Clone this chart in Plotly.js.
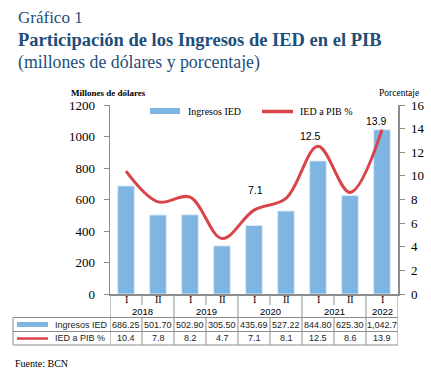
<!DOCTYPE html>
<html><head><meta charset="utf-8">
<script src="https://cdn.plot.ly/plotly-3.0.1.min.js"></script>
<style>html,body{margin:0;padding:0;background:#fff;}#chart{width:431px;height:374px;}</style>
</head><body><div id="chart"></div>
<script>
// ---- data ----
const periods = ['I','II','I','II','I','II','I','II','I'];
const years = ['2018','2018','2019','2019','2020','2020','2021','2021','2022'];
const ingresos = [686.25, 501.70, 502.90, 305.50, 435.69, 527.22, 844.80, 625.30, 1042.70];
const iedPib = [10.4, 7.8, 8.2, 4.7, 7.1, 8.1, 12.5, 8.6, 13.9];
const ingresosText = ['686.25','501.70','502.90','305.50','435.69','527.22','844.80','625.30','1,042.7'];
const iedPibText = ['10.4','7.8','8.2','4.7','7.1','8.1','12.5','8.6','13.9'];
const labelIdx = [4, 6, 8];
const seriesNames = ['Ingresos IED', 'IED a PIB %'];

// ---- layout helpers ----
const W = 431, H = 374;
const M = {l: 110, r: 33, t: 105, b: 80};
const PW = W - M.l - M.r, PH = H - M.t - M.b;
const px = x => (x - M.l) / PW;
const py = y => (H - M.b - y) / PH;
const BLUE = '#7EB5E3', RED = '#D9434A', NAVY = '#1F4E79', GRID = '#8C8C8C';
const SERIF = '"Liberation Serif", "Times New Roman", serif';
const SANS = '"Liberation Sans", Arial, sans-serif';
const n = ingresos.length;
const xs = ingresos.map((_, i) => i);

const traces = [
  {type: 'bar', x: xs, y: ingresos, name: seriesNames[0], yaxis: 'y',
   marker: {color: BLUE, line: {color: '#DCEAF7', width: 1}}, hoverinfo: 'skip'},
  {type: 'scatter', mode: 'lines', x: xs, y: iedPib, name: seriesNames[1], yaxis: 'y2',
   line: {color: RED, width: 3, shape: 'spline', smoothing: 1}, cliponaxis: false, hoverinfo: 'skip'}
];

const ann = [];
const shapes = [];
const line = (x0, y0, x1, y1, xref, color, w) => shapes.push({type: 'line', xref: xref, yref: 'paper',
  x0: x0, x1: x1, y0: y0, y1: y1, line: {color: color || GRID, width: w || 1}});

// titles
ann.push({text: 'Gráfico 1', xref: 'paper', yref: 'paper', x: px(16), y: py(17), xanchor: 'left', yanchor: 'middle', showarrow: false,
  font: {family: SERIF, size: 17, color: NAVY}});
ann.push({text: '<b>Participación de los Ingresos de IED en el PIB</b>', xref: 'paper', yref: 'paper', x: px(16), y: py(40), xanchor: 'left', yanchor: 'middle', showarrow: false,
  font: {family: SERIF, size: 18.5, color: NAVY}});
ann.push({text: '(millones de dólares y porcentaje)', xref: 'paper', yref: 'paper', x: px(16), y: py(62), xanchor: 'left', yanchor: 'middle', showarrow: false,
  font: {family: SERIF, size: 17.8, color: NAVY}});
// axis titles
ann.push({text: '<b>Millones de dólares</b>', xref: 'paper', yref: 'paper', x: px(108), y: py(93), xanchor: 'center', yanchor: 'middle', showarrow: false,
  font: {family: SERIF, size: 9, color: '#000'}});
ann.push({text: 'Porcentaje', xref: 'paper', yref: 'paper', x: px(399), y: py(93), xanchor: 'center', yanchor: 'middle', showarrow: false,
  font: {family: SERIF, size: 9.5, color: '#000'}});
// legend (manual)
shapes.push({type: 'rect', xref: 'paper', yref: 'paper', x0: px(150), x1: px(180), y0: py(108), y1: py(114), fillcolor: BLUE, line: {width: 0}});
ann.push({text: seriesNames[0], xref: 'paper', yref: 'paper', x: px(186), y: py(111), xanchor: 'left', yanchor: 'middle', showarrow: false,
  font: {family: SERIF, size: 10, color: '#000'}});
line(px(262), py(111.5), px(293), py(111.5), 'paper', RED, 3.5);
ann.push({text: seriesNames[1], xref: 'paper', yref: 'paper', x: px(298), y: py(111), xanchor: 'left', yanchor: 'middle', showarrow: false,
  font: {family: SERIF, size: 10, color: '#000'}});
// data labels
const lblShift = {4: [1, 12], 6: [-8, 2], 8: [-6, 1]};
labelIdx.forEach(i => ann.push({text: iedPibText[i], xref: 'x', yref: 'y2', x: i, y: iedPib[i], xanchor: 'center', yanchor: 'bottom',
  xshift: lblShift[i][0], yshift: lblShift[i][1], showarrow: false, font: {family: SANS, size: 10.5, color: '#000'}}));

// table
const yTop = 294, yP = 305, yY = 317.5, yR1 = 331.5, yR2 = 345;
periods.forEach((p, i) => ann.push({text: p, xref: 'x', yref: 'paper', x: i, y: py(299.5), xanchor: 'center', yanchor: 'middle', showarrow: false,
  font: {family: SERIF, size: 10, color: '#000'}}));
// year groups
const groups = [];
years.forEach((y, i) => {
  if (!groups.length || groups[groups.length - 1].y !== y) groups.push({y: y, s: i, e: i});
  else groups[groups.length - 1].e = i;
});
groups.forEach(g => ann.push({text: g.y, xref: 'x', yref: 'paper', x: (g.s + g.e) / 2, y: py(311.5), xanchor: 'center', yanchor: 'middle', showarrow: false,
  font: {family: SANS, size: 9.5, color: '#000'}}));
// vertical dividers
for (let i = 0; i <= n; i++) {
  const xb = i - 0.5;
  const edge = (i === 0 || i === n);
  const yearB = edge || groups.some(g => g.s === i);
  if (yearB) line(xb, py(yTop), xb, py(yR2), 'x');
  else { line(xb, py(yTop), xb, py(yP), 'x'); line(xb, py(yY), xb, py(yR2), 'x'); }
}
// horizontal lines
[yY, yR1, yR2].forEach(y => line(px(13), py(y), px(398), py(y), 'paper'));
line(px(13), py(yY), px(13), py(yR2), 'paper');
// row values
const r1 = (yY + yR1) / 2, r2 = (yR1 + yR2) / 2;
ingresosText.forEach((t, i) => ann.push({text: t, xref: 'x', yref: 'paper', x: i, y: py(r1), xanchor: 'center', yanchor: 'middle', showarrow: false,
  font: {family: SANS, size: 9, color: '#222'}}));
iedPibText.forEach((t, i) => ann.push({text: t, xref: 'x', yref: 'paper', x: i, y: py(r2), xanchor: 'center', yanchor: 'middle', showarrow: false,
  font: {family: SANS, size: 9, color: '#222'}}));
// row keys
shapes.push({type: 'rect', xref: 'paper', yref: 'paper', x0: px(17), x1: px(48), y0: py(322), y1: py(327), fillcolor: BLUE, line: {width: 0}});
line(px(17), py(338.5), px(48), py(338.5), 'paper', RED, 2.5);
ann.push({text: seriesNames[0], xref: 'paper', yref: 'paper', x: px(53), y: py(r1), xanchor: 'left', yanchor: 'middle', showarrow: false,
  font: {family: SANS, size: 9, color: '#222'}});
ann.push({text: seriesNames[1], xref: 'paper', yref: 'paper', x: px(53), y: py(r2), xanchor: 'left', yanchor: 'middle', showarrow: false,
  font: {family: SANS, size: 9, color: '#222'}});
// source
ann.push({text: 'Fuente: BCN', xref: 'paper', yref: 'paper', x: px(13), y: py(363), xanchor: 'left', yanchor: 'middle', showarrow: false,
  font: {family: SERIF, size: 10, color: '#000'}});

const layout = {
  width: W, height: H, margin: M, paper_bgcolor: '#fff', plot_bgcolor: '#fff',
  showlegend: false, bargap: 0.48,
  xaxis: {range: [-0.5, n - 0.5], showticklabels: false, ticks: '', showgrid: false, zeroline: false,
    showline: true, linecolor: GRID, linewidth: 1.5, fixedrange: true},
  yaxis: {range: [0, 1200], dtick: 200, showgrid: false, zeroline: false, showline: true, linecolor: GRID, linewidth: 1.5,
    ticks: 'outside', ticklen: 5, tickcolor: GRID, tickfont: {family: SERIF, size: 13, color: '#000'}, ticklabelstandoff: 6},
  yaxis2: {range: [0, 16], dtick: 2, overlaying: 'y', side: 'right', showgrid: false, zeroline: false, showline: true, linecolor: GRID, linewidth: 1.5,
    ticks: 'outside', ticklen: 5, tickcolor: GRID, tickfont: {family: SERIF, size: 13, color: '#000'}, ticklabelstandoff: 4},
  annotations: ann, shapes: shapes
};
Plotly.newPlot('chart', traces, layout, {staticPlot: true, displayModeBar: false});
</script></body></html>
